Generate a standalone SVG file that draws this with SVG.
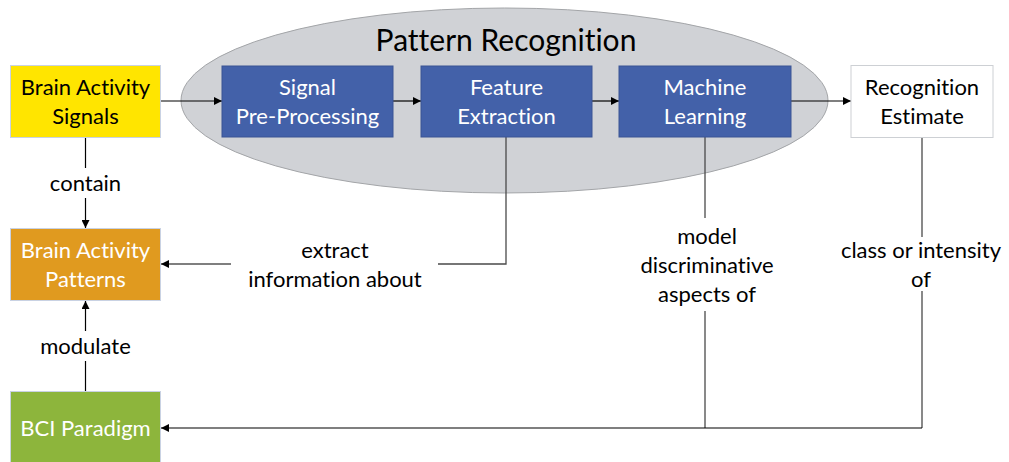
<svg xmlns="http://www.w3.org/2000/svg" width="1009" height="462" viewBox="0 0 1009 462">
  <defs>
    <marker id="arrow" viewBox="0 0 10 10" refX="10" refY="5" markerWidth="8" markerHeight="8" markerUnits="userSpaceOnUse" orient="auto">
      <path d="M0,0 L10,5 L0,10 z" fill="#000"/>
    </marker>
  </defs>
  <style>
    text { font-family: Lato, "Open Sans", sans-serif; font-size: 22px; text-anchor: middle; font-variant-ligatures: none; font-feature-settings: "liga" 0, "dlig" 0; }
    .box { stroke: #c9d2e3; stroke-width: 1; }
    .dark { fill: #000; }
    .light { fill: #fff; }
    .proc { fill: #4361a9; stroke: #3a5494; }
    .conn { fill: none; stroke: #000; stroke-width: 1.2; }
    .link { fill: none; stroke: #4a4a4a; stroke-width: 1.3; }
  </style>
  <rect width="1009" height="462" fill="#fff"/>

  <!-- pattern recognition container -->
  <g id="pattern-recognition">
    <ellipse cx="504.5" cy="100.5" rx="323.5" ry="92.5" fill="#d0d2d6" stroke="#a3a5a8" stroke-width="1"/>
    <text x="506" y="51" style="font-size:30px" class="dark">Pattern Recognition</text>
  </g>

  <!-- connectors -->
  <g id="connectors">
    <!-- main pipeline -->
    <line class="conn" x1="160" y1="101" x2="222" y2="101" marker-end="url(#arrow)"/>
    <line class="conn" x1="393" y1="101" x2="421" y2="101" marker-end="url(#arrow)"/>
    <line class="conn" x1="592" y1="101" x2="619" y2="101" marker-end="url(#arrow)"/>
    <line class="conn" x1="791" y1="101" x2="851" y2="101" marker-end="url(#arrow)"/>
    <!-- contain -->
    <line class="conn" x1="85.5" y1="137" x2="85.5" y2="168"/>
    <line class="conn" x1="85.5" y1="198" x2="85.5" y2="228" marker-end="url(#arrow)"/>
    <!-- modulate -->
    <line class="conn" x1="85.5" y1="391" x2="85.5" y2="361"/>
    <line class="conn" x1="85.5" y1="331" x2="85.5" y2="301" marker-end="url(#arrow)"/>
    <!-- extract information about -->
    <polyline class="link" points="506,137 506,264 438,264"/>
    <line class="conn" x1="231" y1="264" x2="161" y2="264" marker-end="url(#arrow)"/>
    <!-- model discriminative aspects of -->
    <line class="link" x1="705" y1="137" x2="705" y2="218"/>
    <line class="link" x1="705" y1="311" x2="705" y2="428"/>
    <!-- class or intensity of -->
    <line class="link" x1="922" y1="137" x2="922" y2="237"/>
    <line class="link" x1="922" y1="291" x2="922" y2="428"/>
    <line class="conn" x1="922" y1="428" x2="161" y2="428" marker-end="url(#arrow)"/>

    <text x="85.5" y="191" class="dark">contain</text>
    <text x="85.5" y="354" class="dark">modulate</text>
    <text x="335" y="258" class="dark">extract</text>
    <text x="335" y="287" class="dark">information about</text>
    <text x="707" y="244" class="dark">model</text>
    <text x="707" y="273" class="dark">discriminative</text>
    <text x="707" y="302" class="dark">aspects of</text>
    <text x="921" y="258" class="dark">class or intensity</text>
    <text x="921" y="287" class="dark">of</text>
  </g>

  <g id="brain-activity-signals">
    <rect class="box" x="10.5" y="65.5" width="150" height="72" fill="#ffe500"/>
    <text x="85.5" y="95" class="dark">Brain Activity</text>
    <text x="85.5" y="124" class="dark">Signals</text>
  </g>

  <g id="brain-activity-patterns">
    <rect class="box" x="10.5" y="228.5" width="150" height="72" fill="#e09a1f"/>
    <text x="85.5" y="258" class="light">Brain Activity</text>
    <text x="85.5" y="287" class="light">Patterns</text>
  </g>

  <g id="bci-paradigm">
    <rect class="box" x="10.5" y="391.5" width="150" height="72" fill="#8db53c"/>
    <text x="85.5" y="436" class="light">BCI Paradigm</text>
  </g>

  <g id="signal-pre-processing">
    <rect class="proc" x="222" y="66" width="171" height="71"/>
    <text x="307.5" y="95" class="light">Signal</text>
    <text x="307.5" y="124" class="light">Pre-Processing</text>
  </g>

  <g id="feature-extraction">
    <rect class="proc" x="421" y="66" width="171" height="71"/>
    <text x="506.5" y="95" class="light">Feature</text>
    <text x="506.5" y="124" class="light">Extraction</text>
  </g>

  <g id="machine-learning">
    <rect class="proc" x="619" y="66" width="172" height="71"/>
    <text x="705" y="95" class="light">Machine</text>
    <text x="705" y="124" class="light">Learning</text>
  </g>

  <g id="recognition-estimate">
    <rect x="851" y="65.5" width="142" height="72" fill="#fff" stroke="#cdd0d4" stroke-width="1"/>
    <text x="922" y="95" class="dark">Recognition</text>
    <text x="922" y="124" class="dark">Estimate</text>
  </g>
</svg>
